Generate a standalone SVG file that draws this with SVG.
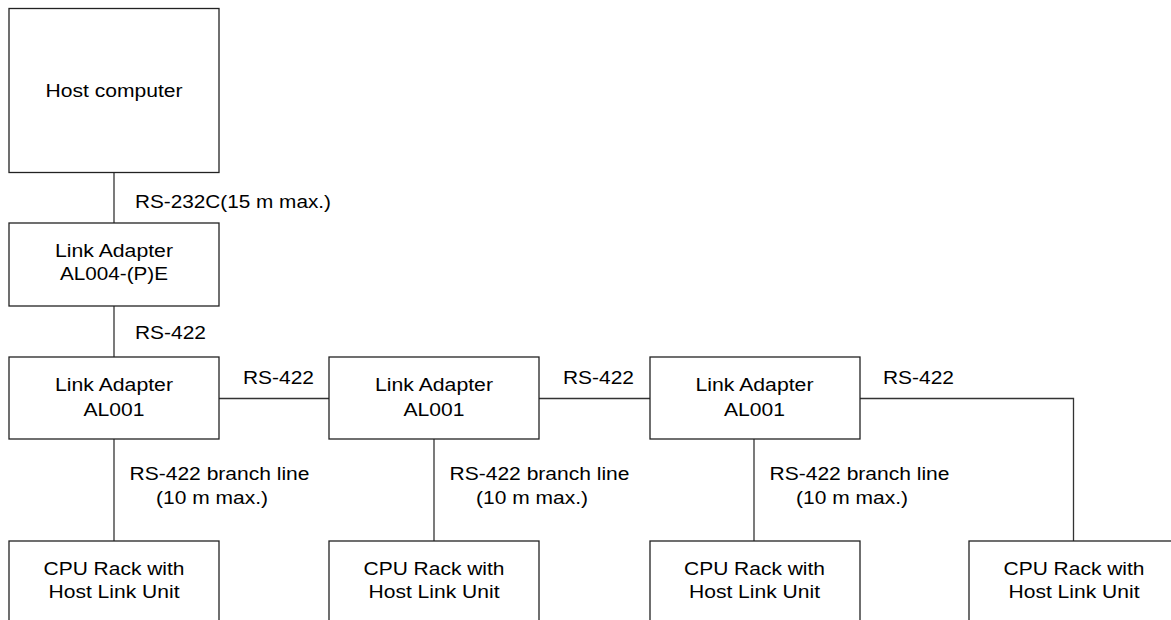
<svg xmlns="http://www.w3.org/2000/svg" width="1171" height="620" viewBox="0 0 1171 620">
<style>
.box{fill:#fff;stroke:#222;stroke-width:1.3}
.ln{fill:none;stroke:#333;stroke-width:1.3}
text{font-family:"Liberation Sans",Arial,sans-serif;font-size:17.5px;fill:#000}
.c{text-anchor:middle}
</style>
<rect width="1171" height="620" fill="#fff"/>
<g id="connectors">
<line class="ln" x1="114" y1="172" x2="114" y2="223"/>
<line class="ln" x1="114" y1="306" x2="114" y2="357"/>
<line class="ln" x1="219" y1="398.5" x2="329" y2="398.5"/>
<line class="ln" x1="539" y1="398.5" x2="650" y2="398.5"/>
<polyline class="ln" points="860,398.5 1073.5,398.5 1073.5,541"/>
<line class="ln" x1="114" y1="439" x2="114" y2="541"/>
<line class="ln" x1="434" y1="439" x2="434" y2="541"/>
<line class="ln" x1="754" y1="439" x2="754" y2="541"/>
<text x="135" y="208" textLength="196" lengthAdjust="spacingAndGlyphs">RS-232C(15 m max.)</text>
<text x="135" y="339" textLength="71" lengthAdjust="spacingAndGlyphs">RS-422</text>
<text x="243" y="383.5" textLength="71" lengthAdjust="spacingAndGlyphs">RS-422</text>
<text x="563" y="383.5" textLength="71" lengthAdjust="spacingAndGlyphs">RS-422</text>
<text x="883" y="383.5" textLength="71" lengthAdjust="spacingAndGlyphs">RS-422</text>
<text x="129.5" y="480" textLength="180" lengthAdjust="spacingAndGlyphs">RS-422 branch line</text>
<text x="156" y="503.5" textLength="112" lengthAdjust="spacingAndGlyphs">(10 m max.)</text>
<text x="449.5" y="480" textLength="180" lengthAdjust="spacingAndGlyphs">RS-422 branch line</text>
<text x="476" y="503.5" textLength="112" lengthAdjust="spacingAndGlyphs">(10 m max.)</text>
<text x="769.5" y="480" textLength="180" lengthAdjust="spacingAndGlyphs">RS-422 branch line</text>
<text x="796" y="503.5" textLength="112" lengthAdjust="spacingAndGlyphs">(10 m max.)</text>
</g>
<g id="host">
<rect class="box" x="9" y="8.5" width="210" height="164"/>
<text class="c" x="114" y="96.5" textLength="137" lengthAdjust="spacingAndGlyphs">Host computer</text>
</g>
<g id="al004">
<rect class="box" x="9" y="223" width="210" height="83"/>
<text class="c" x="114" y="256.5" textLength="118" lengthAdjust="spacingAndGlyphs">Link Adapter</text>
<text class="c" x="114" y="280" textLength="108" lengthAdjust="spacingAndGlyphs">AL004-(P)E</text>
</g>
<g id="al001-1">
<rect class="box" x="9" y="357" width="210" height="82"/>
<text class="c" x="114" y="391" textLength="118" lengthAdjust="spacingAndGlyphs">Link Adapter</text>
<text class="c" x="114" y="415.5" textLength="61" lengthAdjust="spacingAndGlyphs">AL001</text>
</g>
<g id="al001-2">
<rect class="box" x="329" y="357" width="210" height="82"/>
<text class="c" x="434" y="391" textLength="118" lengthAdjust="spacingAndGlyphs">Link Adapter</text>
<text class="c" x="434" y="415.5" textLength="61" lengthAdjust="spacingAndGlyphs">AL001</text>
</g>
<g id="al001-3">
<rect class="box" x="650" y="357" width="210" height="82"/>
<text class="c" x="754.5" y="391" textLength="118" lengthAdjust="spacingAndGlyphs">Link Adapter</text>
<text class="c" x="754.5" y="415.5" textLength="61" lengthAdjust="spacingAndGlyphs">AL001</text>
</g>
<g id="cpu-1">
<rect class="box" x="9" y="541" width="210" height="100"/>
<text class="c" x="114" y="575" textLength="141" lengthAdjust="spacingAndGlyphs">CPU Rack with</text>
<text class="c" x="114" y="598" textLength="131" lengthAdjust="spacingAndGlyphs">Host Link Unit</text>
</g>
<g id="cpu-2">
<rect class="box" x="329" y="541" width="210" height="100"/>
<text class="c" x="434" y="575" textLength="141" lengthAdjust="spacingAndGlyphs">CPU Rack with</text>
<text class="c" x="434" y="598" textLength="131" lengthAdjust="spacingAndGlyphs">Host Link Unit</text>
</g>
<g id="cpu-3">
<rect class="box" x="650" y="541" width="210" height="100"/>
<text class="c" x="754.5" y="575" textLength="141" lengthAdjust="spacingAndGlyphs">CPU Rack with</text>
<text class="c" x="754.5" y="598" textLength="131" lengthAdjust="spacingAndGlyphs">Host Link Unit</text>
</g>
<g id="cpu-4">
<rect class="box" x="969" y="541" width="210" height="100"/>
<text class="c" x="1074" y="575" textLength="141" lengthAdjust="spacingAndGlyphs">CPU Rack with</text>
<text class="c" x="1074" y="598" textLength="131" lengthAdjust="spacingAndGlyphs">Host Link Unit</text>
</g>
</svg>
